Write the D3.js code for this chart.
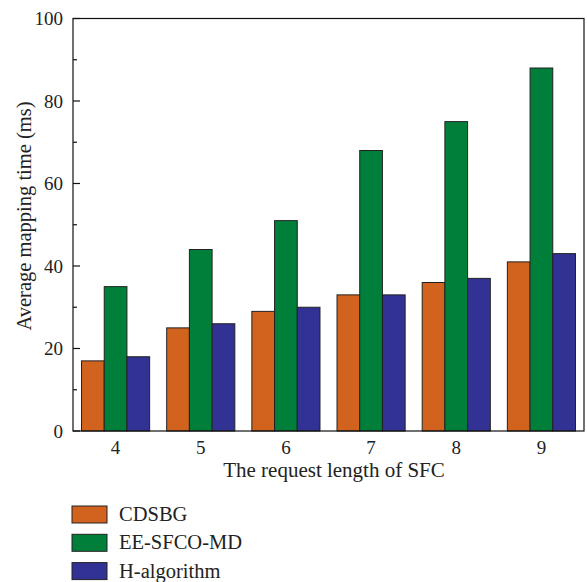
<!DOCTYPE html>
<html lang="en">
<head>
  <meta charset="UTF-8">
  <title>Average mapping time</title>
  <script src="https://d3js.org/d3.v7.min.js"></script>
  <style>
    body { margin: 0; background: #fff; }
    text { font-family: "Liberation Serif", "DejaVu Serif", serif; fill: #222; }
  </style>
</head>
<body>
<script>
  // data
  const lengths = ["4", "5", "6", "7", "8", "9"];
  const seriesNames = ["CDSBG", "EE-SFCO-MD", "H-algorithm"];
  const cdsbg = [17, 25, 29, 33, 36, 41];
  const eeSfcoMd = [35, 44, 51, 68, 75, 88];
  const hAlgorithm = [18, 26, 30, 33, 37, 43];
  const yTicks = [0, 20, 40, 60, 80, 100];
  const yMinorTicks = [10, 30, 50, 70, 90];

  const colors = ["#d2631e", "#007f3a", "#313294"];
  const values = [cdsbg, eeSfcoMd, hAlgorithm];

  const width = 587, height = 582;
  const plotL = 73, plotR = 584, plotT = 18.5, plotB = 431;

  const svg = d3.select("body").append("svg")
      .attr("width", width)
      .attr("height", height);

  const x = d3.scaleBand()
      .domain(lengths)
      .range([plotL, plotR])
      .paddingInner(0.2)
      .paddingOuter(0.1);

  const xSub = d3.scaleBand()
      .domain(seriesNames)
      .range([0, x.bandwidth()]);

  const y = d3.scaleLinear()
      .domain([0, 100])
      .range([plotB, plotT]);

  // bars
  seriesNames.forEach((name, si) => {
    svg.append("g")
        .selectAll("rect")
        .data(lengths)
        .enter().append("rect")
        .attr("x", d => x(d) + xSub(name))
        .attr("y", (d, i) => y(values[si][i]))
        .attr("width", xSub.bandwidth())
        .attr("height", (d, i) => y(0) - y(values[si][i]))
        .attr("fill", colors[si])
        .attr("stroke", "#222")
        .attr("stroke-width", 1);
  });

  // frame
  svg.append("rect")
      .attr("x", plotL)
      .attr("y", plotT)
      .attr("width", plotR - plotL)
      .attr("height", plotB - plotT)
      .attr("fill", "none")
      .attr("stroke", "#111")
      .attr("stroke-width", 1.2);

  // y axis ticks (inside)
  const yAxis = svg.append("g");
  yAxis.selectAll("line.major")
      .data(yTicks)
      .enter().append("line")
      .attr("class", "major")
      .attr("x1", plotL).attr("x2", plotL + 7)
      .attr("y1", d => y(d)).attr("y2", d => y(d))
      .attr("stroke", "#111").attr("stroke-width", 1.2);
  yAxis.selectAll("line.minor")
      .data(yMinorTicks)
      .enter().append("line")
      .attr("class", "minor")
      .attr("x1", plotL).attr("x2", plotL + 4)
      .attr("y1", d => y(d)).attr("y2", d => y(d))
      .attr("stroke", "#111").attr("stroke-width", 1.2);
  yAxis.selectAll("text")
      .data(yTicks)
      .enter().append("text")
      .attr("x", plotL - 10)
      .attr("y", d => y(d))
      .attr("dy", "0.35em")
      .attr("text-anchor", "end")
      .attr("font-size", 19)
      .text(d => d);

  // x tick labels
  svg.append("g").selectAll("text")
      .data(lengths)
      .enter().append("text")
      .attr("x", d => x(d) + x.bandwidth() / 2)
      .attr("y", plotB + 23)
      .attr("text-anchor", "middle")
      .attr("font-size", 19)
      .text(d => d);

  // axis titles
  svg.append("text")
      .attr("x", 334)
      .attr("y", 477)
      .attr("text-anchor", "middle")
      .attr("font-size", 21)
      .text("The request length of SFC");

  svg.append("text")
      .attr("transform", "translate(31,216) rotate(-90)")
      .attr("text-anchor", "middle")
      .attr("font-size", 20.5)
      .text("Average mapping time (ms)");

  // legend
  const legend = svg.append("g").attr("transform", "translate(72,506)");
  const item = legend.selectAll("g")
      .data(seriesNames)
      .enter().append("g")
      .attr("transform", (d, i) => "translate(0," + (i * 28.3) + ")");
  item.append("rect")
      .attr("width", 35)
      .attr("height", 17)
      .attr("fill", (d, i) => colors[i])
      .attr("stroke", "#222")
      .attr("stroke-width", 1);
  item.append("text")
      .attr("x", 47)
      .attr("y", 15)
      .attr("font-size", 20.5)
      .text(d => d);
</script>
</body>
</html>
